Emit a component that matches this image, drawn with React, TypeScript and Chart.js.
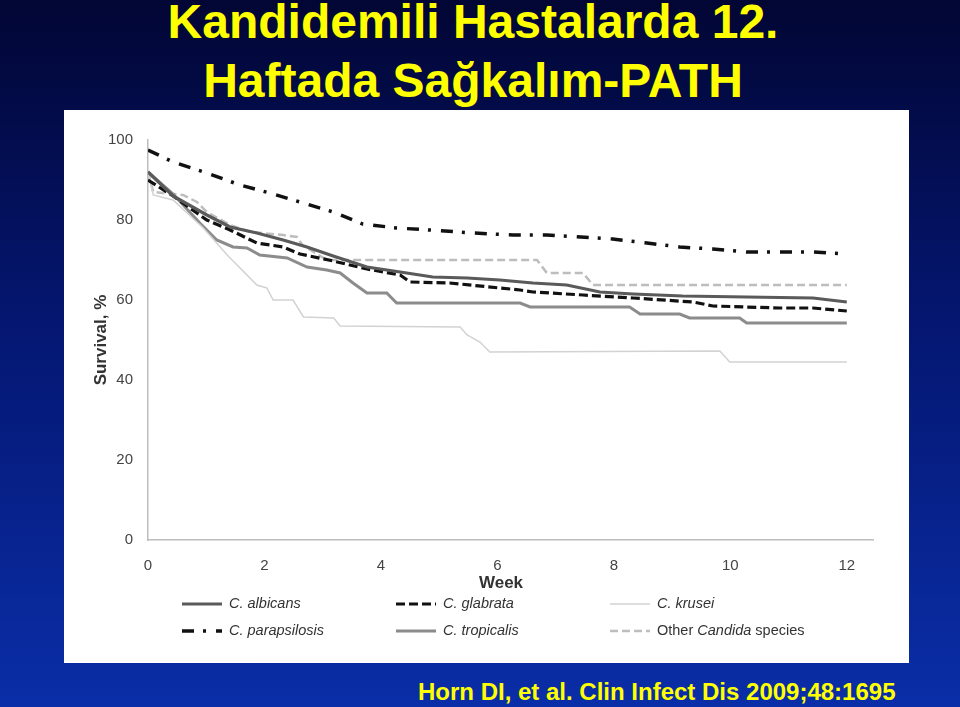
import React, { useEffect, useRef } from "react";
import { Chart, registerables } from "chart.js";

Chart.register(...registerables);

const titleLines = ["Kandidemili Hastalarda 12.", "Haftada Sağkalım-PATH"];
const citation = "Horn DI, et al. Clin Infect Dis 2009;48:1695";
const xTitle = "Week";
const yTitle = "Survival, %";
const xTicks = [0, 2, 4, 6, 8, 10, 12];
const yTicks = [0, 20, 40, 60, 80, 100];

// [week, survival %]
const albicans = [
  [0, 92], [0.43, 86], [1.01, 81.25], [1.41, 78.25], [1.87, 76.75], [2.32, 75], [2.73, 73.25],
  [3.18, 71], [3.76, 68.25], [4.33, 67], [4.89, 65.75], [5.48, 65.5], [6.04, 65], [6.61, 64.25],
  [7.19, 63.75], [7.76, 62], [8.33, 61.5], [9.18, 61], [10.28, 60.75], [11.42, 60.5], [12, 59.5],
];
const glabrata = [
  [0, 90], [0.43, 86], [1.01, 80], [1.41, 77.5], [1.87, 74.25], [2.32, 73.25], [2.61, 71.5],
  [3.18, 69.75], [3.76, 67.75], [4.33, 66.25], [4.5, 64.5], [5.18, 64.25], [6.04, 63], [6.39, 62.5],
  [6.61, 62], [7.47, 61.25], [8.33, 60.5], [9.36, 59.5], [9.7, 58.5], [10.85, 58], [11.42, 58], [12, 57.25],
];
const krusei = [
  [0, 92], [0.09, 86.25], [0.43, 85], [0.95, 78], [1.36, 71.25], [1.87, 63.75], [2.04, 63],
  [2.15, 60], [2.49, 60], [2.67, 55.75], [3.19, 55.5], [3.3, 53.5], [5.36, 53.25], [5.48, 51.25],
  [5.7, 49.5], [5.87, 47], [9.82, 47.25], [9.99, 44.5], [12, 44.5],
];
const parapsilosis = [
  [0, 97.5], [0.43, 94.5], [1.01, 91.75], [1.58, 88.75], [2.09, 86.75], [2.61, 84.5], [3.18, 82],
  [3.69, 79], [4.27, 78], [4.84, 77.5], [5.58, 76.75], [6.27, 76.25], [6.85, 76.25], [7.98, 75.25],
  [8.57, 74.25], [9.13, 73.25], [9.7, 72.75], [10.28, 72], [11.42, 72], [12, 71.5],
];
const tropicalis = [
  [0, 92], [0.43, 86.5], [0.89, 79.25], [1.18, 75], [1.46, 73.25], [1.7, 73], [1.92, 71.25],
  [2.39, 70.5], [2.73, 68.25], [3.07, 67.5], [3.3, 66.75], [3.52, 64.25], [3.76, 61.75], [4.1, 61.75],
  [4.27, 59.25], [6.39, 59.25], [6.56, 58.25], [8.27, 58.25], [8.45, 56.5], [9.13, 56.5], [9.3, 55.5],
  [10.16, 55.5], [10.28, 54.25], [12, 54.25],
];
const otherSpecies = [
  [0, 92], [0.09, 87], [0.6, 86.25], [0.84, 84.5], [1.01, 82], [1.41, 78.75], [1.75, 77], [2.32, 76.25],
  [2.56, 75.75], [2.65, 73.75], [3.07, 70], [6.68, 70], [6.85, 66.75], [7.47, 66.75], [7.64, 63.75], [12, 63.75],
];

type Part = { t: string; i: boolean };
const seriesLabels: Part[][] = [
  [{ t: "C. albicans", i: true }],
  [{ t: "C. glabrata", i: true }],
  [{ t: "C. krusei", i: true }],
  [{ t: "C. parapsilosis", i: true }],
  [{ t: "C. tropicalis", i: true }],
  [{ t: "Other ", i: false }, { t: "Candida", i: true }, { t: " species", i: false }],
];

const styles = [
  { color: "#5a5a5a", width: 3.2, dash: [] as number[] },
  { color: "#111111", width: 3.2, dash: [9, 4] },
  { color: "#d2d2d2", width: 1.5, dash: [] as number[] },
  { color: "#111111", width: 3.5, dash: [12, 9, 3, 10] },
  { color: "#8c8c8c", width: 3, dash: [] as number[] },
  { color: "#bdbdbd", width: 2.5, dash: [8, 4] },
];
const seriesData = [albicans, glabrata, krusei, parapsilosis, tropicalis, otherSpecies];

const FONT = "Arial, 'Liberation Sans', sans-serif";

const overlayPlugin = {
  id: "overlay",
  afterDraw(chart: any) {
    const ctx = chart.ctx as CanvasRenderingContext2D;
    const area = chart.chartArea;
    ctx.save();
    // axis titles
    ctx.fillStyle = "#333333";
    ctx.font = `bold 17px ${FONT}`;
    ctx.textAlign = "center";
    ctx.textBaseline = "middle";
    ctx.fillText(xTitle, 437, 473);
    ctx.save();
    ctx.translate(37, (area.top + area.bottom) / 2);
    ctx.rotate(-Math.PI / 2);
    ctx.fillText(yTitle, 0, 0);
    ctx.restore();

    // legend
    const cols = [118, 332, 546];
    const rows = [494, 521];
    chart.data.datasets.forEach((ds: any, idx: number) => {
      const x0 = cols[idx % 3];
      const y0 = rows[Math.floor(idx / 3)];
      ctx.beginPath();
      ctx.setLineDash(ds.borderDash || []);
      ctx.lineWidth = ds.borderWidth;
      ctx.strokeStyle = ds.borderColor;
      ctx.moveTo(x0, y0);
      ctx.lineTo(x0 + 40, y0);
      ctx.stroke();
      ctx.setLineDash([]);
      let tx = x0 + 47;
      ctx.fillStyle = "#333333";
      ctx.textAlign = "left";
      ctx.textBaseline = "middle";
      for (const p of seriesLabels[idx]) {
        ctx.font = `${p.i ? "italic " : ""}14.5px ${FONT}`;
        ctx.fillText(p.t, tx, y0);
        tx += ctx.measureText(p.t).width;
      }
    });
    ctx.restore();
  },
};

function ChartPanel() {
  const ref = useRef<HTMLCanvasElement | null>(null);
  useEffect(() => {
    if (!ref.current) return;
    const chart = new Chart(ref.current, {
      type: "line",
      data: {
        datasets: seriesData.map((d, i) => ({
          label: seriesLabels[i].map((p) => p.t).join(""),
          data: d.map(([x, y]) => ({ x, y })),
          borderColor: styles[i].color,
          borderWidth: styles[i].width,
          borderDash: styles[i].dash,
          pointRadius: 0,
          tension: 0,
          fill: false,
        })),
      },
      options: {
        animation: false,
        responsive: false,
        devicePixelRatio: 1,
        layout: { padding: { left: 0, right: 36, top: 30, bottom: 0 } },
        plugins: { legend: { display: false }, tooltip: { enabled: false } },
        scales: {
          x: {
            type: "linear",
            min: 0,
            max: 12.45,
            afterBuildTicks: (s: any) => {
              s.ticks = xTicks.map((v) => ({ value: v }));
            },
            afterFit: (s: any) => {
              s.height = 123;
            },
            grid: { display: false, drawTicks: false },
            border: { display: true, color: "#bdbdbd", width: 1.5 },
            ticks: { padding: 17, color: "#444444", font: { family: FONT, size: 15 }, maxRotation: 0, autoSkip: false },
          },
          y: {
            type: "linear",
            min: 0,
            max: 100,
            afterBuildTicks: (s: any) => {
              s.ticks = yTicks.map((v) => ({ value: v }));
            },
            afterFit: (s: any) => {
              s.width = 84;
            },
            grid: { display: false, drawTicks: false },
            border: { display: true, color: "#bdbdbd", width: 1.5 },
            ticks: { padding: 15, color: "#444444", font: { family: FONT, size: 15 } },
          },
        },
      },
      plugins: [overlayPlugin],
    } as any);
    return () => chart.destroy();
  }, []);
  return <canvas ref={ref} width={845} height={553} style={{ display: "block" }} />;
}

export default function App() {
  return (
    <div
      style={{
        position: "absolute",
        left: 0,
        top: 0,
        width: 960,
        height: 707,
        overflow: "hidden",
        background: "linear-gradient(to bottom, #020634 0%, #041670 45%, #0a2ea8 100%)",
        fontFamily: FONT,
      }}
    >
      <div
        style={{
          position: "absolute",
          left: 0,
          top: -8,
          width: 946,
          textAlign: "center",
          color: "#ffff00",
          fontWeight: "bold",
          fontSize: 48,
          lineHeight: "59px",
          whiteSpace: "nowrap",
        }}
      >
        {titleLines.map((t) => (
          <div key={t}>{t}</div>
        ))}
      </div>
      <div style={{ position: "absolute", left: 64, top: 110, width: 845, height: 553, background: "#ffffff" }}>
        <ChartPanel />
      </div>
      <div
        style={{
          position: "absolute",
          left: 418,
          top: 680,
          color: "#ffff00",
          fontWeight: "bold",
          fontSize: 24,
          lineHeight: "24px",
          whiteSpace: "nowrap",
        }}
      >
        {citation}
      </div>
    </div>
  );
}
